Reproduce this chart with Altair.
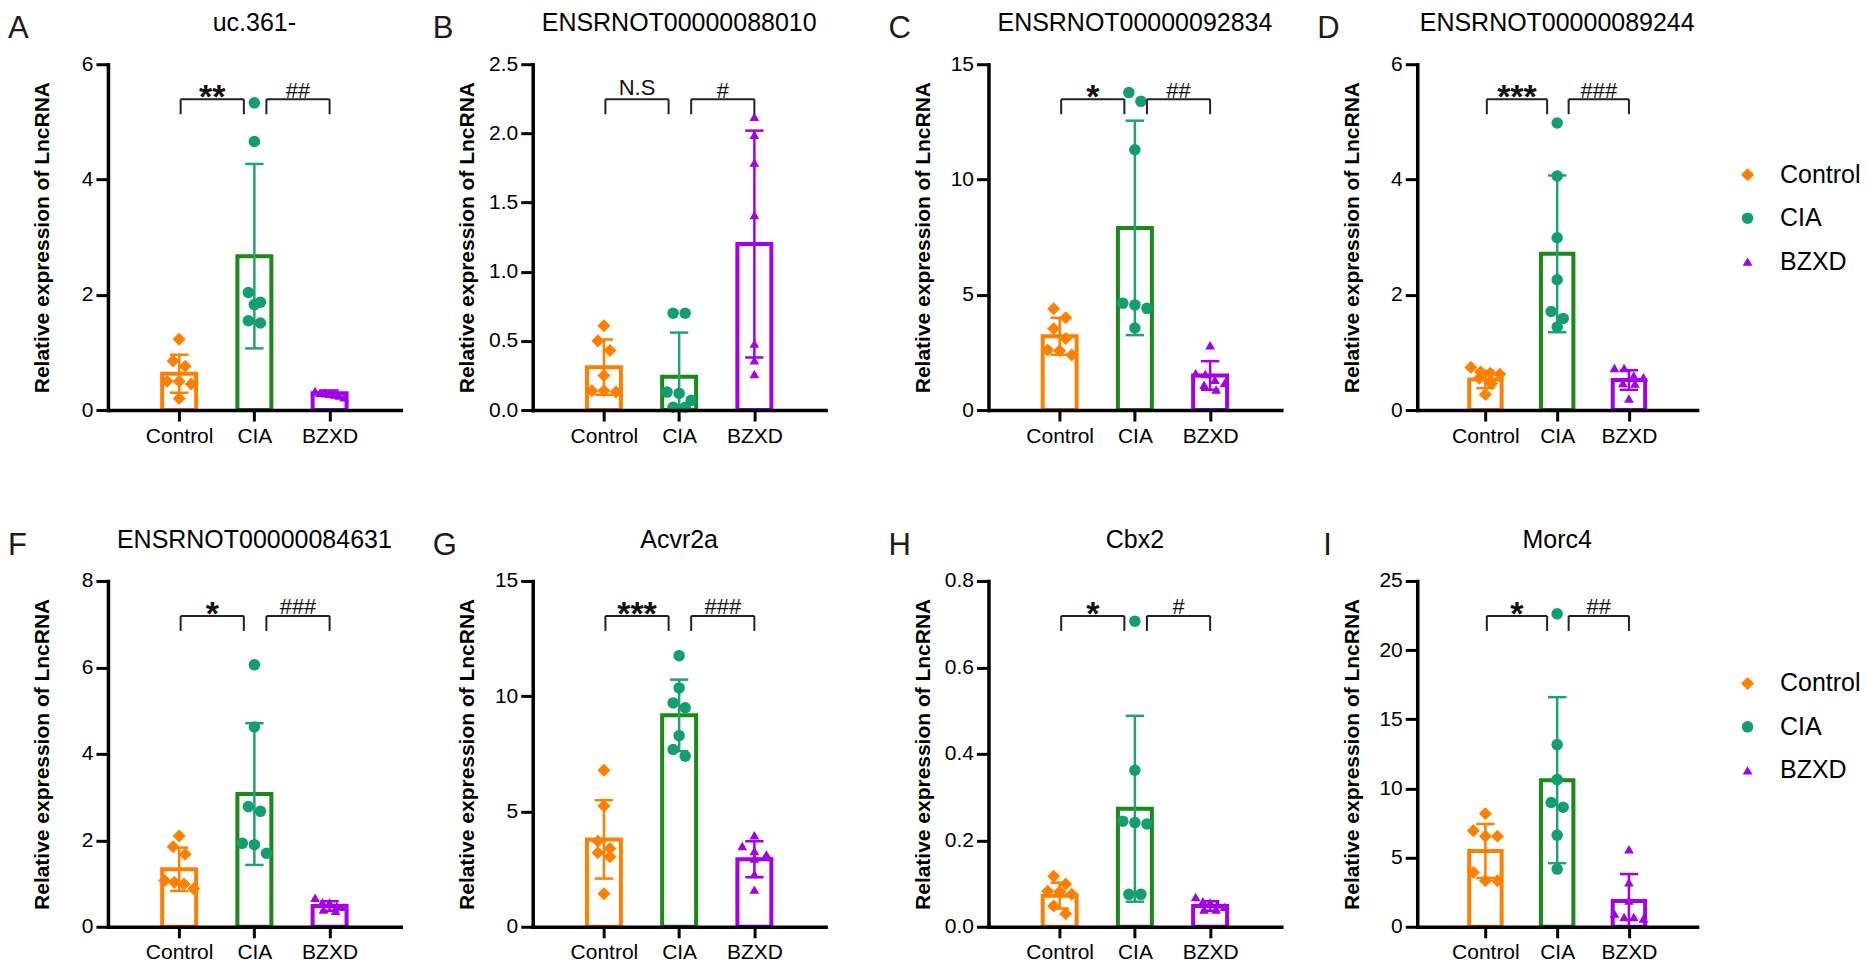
import json
import altair as alt
import pandas as pd

FONT = "Liberation Sans, Arial, Helvetica, sans-serif"

# ---------------- data ----------------
GROUPS = ["Control", "CIA", "BZXD"]
LETTERS = ["A", "B", "C", "D", "F", "G", "H", "I"]
TITLES = ["uc.361-", "ENSRNOT00000088010", "ENSRNOT00000092834", "ENSRNOT00000089244",
          "ENSRNOT00000084631", "Acvr2a", "Cbx2", "Morc4"]
Y_MAX = [6, 2.5, 15, 6, 8, 15, 0.8, 25]
Y_TICKS = [[0, 2, 4, 6], [0, 0.5, 1.0, 1.5, 2.0, 2.5], [0, 5, 10, 15], [0, 2, 4, 6],
           [0, 2, 4, 6, 8], [0, 5, 10, 15], [0, 0.2, 0.4, 0.6, 0.8], [0, 5, 10, 15, 20, 25]]
Y_FORMAT = ["d", ".1f", "d", "d", "d", "d", ".1f", "d"]
SIG_VS_CONTROL = ["**", "N.S", "*", "***", "*", "***", "*", "*"]
SIG_VS_CIA = ["##", "#", "##", "###", "###", "###", "#", "##"]

# bar heights (mean) and error bars (SD): Control, CIA, BZXD
A_MEAN = [0.63, 2.67, 0.29];    A_SD = [0.33, 1.60, 0.05]
B_MEAN = [0.31, 0.24, 1.20];    B_SD = [0.20, 0.32, 0.82]
C_MEAN = [3.20, 7.90, 1.50];    C_SD = [0.80, 4.65, 0.62]
D_MEAN = [0.53, 2.71, 0.52];    D_SD = [0.15, 1.36, 0.17]
F_MEAN = [1.33, 3.07, 0.48];    F_SD = [0.50, 1.64, 0.11]
G_MEAN = [3.79, 9.17, 2.93];    G_SD = [1.70, 1.55, 0.78]
H_MEAN = [0.072, 0.273, 0.048]; H_SD = [0.030, 0.215, 0.011]
I_MEAN = [5.48, 10.60, 1.86];   I_SD = [1.95, 6.00, 1.95]

# individual samples
A_CONTROL = [1.23, 0.85, 0.76, 0.50, 0.50, 0.45, 0.20]
A_CIA = [5.33, 4.66, 2.04, 1.87, 1.83, 1.55, 1.51]
A_BZXD = [0.33, 0.30, 0.30, 0.28, 0.27, 0.25, 0.22]
B_CONTROL = [0.61, 0.50, 0.43, 0.25, 0.14, 0.14, 0.13]
B_CIA = [0.70, 0.70, 0.13, 0.12, 0.07, 0.02, 0.02]
B_BZXD = [2.12, 1.99, 1.79, 1.41, 0.48, 0.36, 0.26]
C_CONTROL = [4.39, 4.00, 3.53, 3.10, 2.60, 2.57, 2.39]
C_CIA = [13.77, 13.39, 11.29, 4.63, 4.56, 4.41, 3.56]
C_BZXD = [2.81, 1.60, 1.56, 1.31, 1.17, 1.10, 0.89]
D_CONTROL = [0.74, 0.66, 0.64, 0.62, 0.55, 0.46, 0.27]
D_CIA = [4.98, 4.06, 2.99, 2.26, 1.71, 1.59, 1.44]
D_BZXD = [0.73, 0.73, 0.60, 0.57, 0.47, 0.46, 0.20]
F_CONTROL = [2.10, 1.85, 1.68, 1.07, 1.03, 0.99, 0.88]
F_CIA = [6.06, 4.62, 2.78, 2.67, 1.93, 1.90, 1.70]
F_BZXD = [0.67, 0.57, 0.56, 0.48, 0.46, 0.40, 0.37]
G_CONTROL = [6.79, 5.24, 3.71, 3.39, 3.21, 3.04, 1.43]
G_CIA = [11.76, 10.36, 9.71, 9.50, 8.29, 7.69, 7.40]
G_BZXD = [3.97, 3.50, 3.29, 3.14, 2.96, 2.29, 1.61]
H_CONTROL = [0.117, 0.099, 0.082, 0.081, 0.075, 0.048, 0.030]
H_CIA = [0.707, 0.362, 0.244, 0.241, 0.238, 0.075, 0.075]
H_BZXD = [0.069, 0.059, 0.056, 0.052, 0.046, 0.040, 0.040]
I_CONTROL = [8.17, 6.95, 6.55, 6.55, 3.93, 3.33, 3.33]
I_CIA = [22.62, 13.17, 10.64, 8.98, 8.64, 6.62, 4.17]
I_BZXD = [5.60, 3.21, 1.90, 0.95, 0.71, 0.71, 0.60]

MEANS = [A_MEAN, B_MEAN, C_MEAN, D_MEAN, F_MEAN, G_MEAN, H_MEAN, I_MEAN]
SDS = [A_SD, B_SD, C_SD, D_SD, F_SD, G_SD, H_SD, I_SD]
POINTS = [
    [A_CONTROL, A_CIA, A_BZXD], [B_CONTROL, B_CIA, B_BZXD],
    [C_CONTROL, C_CIA, C_BZXD], [D_CONTROL, D_CIA, D_BZXD],
    [F_CONTROL, F_CIA, F_BZXD], [G_CONTROL, G_CIA, G_BZXD],
    [H_CONTROL, H_CIA, H_BZXD], [I_CONTROL, I_CIA, I_BZXD],
]

# ---------------- styles / layout ----------------
POINT_COLORS = ["#FF8000", "#129E6E", "#A100E8"]
BAR_COLORS = ["#FF8000", "#1A8A1A", "#A100E8"]
ERR_COLORS = ["#FF8000", "#21A07A", "#A100E8"]
SHAPES = ["diamond", "circle", "triangle-up"]
SYMBOL_SIZES = [170, 95, 200]

COL_WIDTH = [405, 436, 409, 280]
AXIS_LEN = [293, 293, 293, 280]
PLOT_H = 346
COL_SPACING = 20
ROW_SPACING = 171
X_DOMAIN = [0.12, 3.88]
LEGEND_POS = {3: (318, 98), 7: (318, 90)}
LABEL_EXPR = json.dumps(GROUPS) + "[round(datum.value) - 1]"


def swarm(values, ppu_y, ppu_x, row_px=10.0, gap_px=12.5, max_span_px=30.0):
    order = sorted(range(len(values)), key=lambda i: -values[i])
    rows = []
    for i in order:
        if rows and (values[rows[-1][0]] - values[i]) * ppu_y < row_px:
            rows[-1].append(i)
        else:
            rows.append([i])
    offs = [0.0] * len(values)
    for row in rows:
        n = len(row)
        g = gap_px if n < 2 else min(gap_px, max_span_px / (n - 1))
        for j, i in enumerate(row):
            offs[i] = (j - (n - 1) / 2) * g / ppu_x
    return offs


def build_panel(k):
    col = k % 4
    L = AXIS_LEN[col]
    ymax = Y_MAX[k]
    ppu_x = L / (X_DOMAIN[1] - X_DOMAIN[0])
    ppu_y = PLOT_H / ymax
    bar_w = 34 * ppu_x / 78.0
    cap = 9.5 / ppu_x
    pos = [1, 2, 3]
    means, sds = MEANS[k], SDS[k]

    xscale = alt.Scale(domain=X_DOMAIN, range=[0, L], nice=False, zero=False)
    yscale = alt.Scale(domain=[0, ymax], nice=False, zero=True)
    xaxis = alt.Axis(values=pos, labelExpr=LABEL_EXPR, title=None, tickSize=11,
                     labelPadding=4, labelAngle=0, labelOverlap=False, labelFlush=False,
                     zindex=1)
    yaxis = alt.Axis(values=Y_TICKS[k], format=Y_FORMAT[k], title="Relative expression of LncRNA",
                     titleX=-59, titleBaseline="alphabetic", tickSize=12, labelPadding=3,
                     labelOverlap=False, labelFlush=False, zindex=1)

    def X(f):
        return alt.X(f, type="quantitative", scale=xscale, axis=xaxis)

    def Y(f):
        return alt.Y(f, type="quantitative", scale=yscale, axis=yaxis)

    bars = pd.DataFrame({
        "group": GROUPS, "pos": pos, "mean": means, "zero": [0, 0, 0],
        "lo": [max(0.0, m - s) for m, s in zip(means, sds)],
        "hi": [m + s for m, s in zip(means, sds)],
        "barcolor": BAR_COLORS, "errcolor": ERR_COLORS,
    })
    caps = []
    for p, m, s, c in zip(pos, means, sds, ERR_COLORS):
        caps.append({"x": p - cap, "x2": p + cap, "y": m + s, "errcolor": c})
        if m - s >= 0:
            caps.append({"x": p - cap, "x2": p + cap, "y": m - s, "errcolor": c})
    caps = pd.DataFrame(caps)

    pts = []
    for gi, vals in enumerate(POINTS[k]):
        offs = swarm(vals, ppu_y, ppu_x)
        for v, o in zip(vals, offs):
            pts.append({"group": GROUPS[gi], "x": pos[gi] + o, "value": v})
    pts = pd.DataFrame(pts)

    y_top = ymax * (1 - 35.0 / PLOT_H)
    y_leg = ymax * (1 - 50.0 / PLOT_H)
    spans = [(1.02, 1.86), (2.16, 3.0)]
    hlines = pd.DataFrame([{"x": a, "x2": b, "y": y_top} for a, b in spans])
    legs = pd.DataFrame([{"x": v, "y": y_top, "y2": y_leg} for a, b in spans for v in (a, b)])
    labels = [SIG_VS_CONTROL[k], SIG_VS_CIA[k]]
    star_rows, other_rows = [], []
    for (a, b), lab in zip(spans, labels):
        cx = (a + b) / 2
        if "*" in lab:
            star_rows.append({"x": cx, "y": y_top - 9.0 / ppu_y, "t": lab})
        elif "#" in lab:
            other_rows.append({"x": cx, "y": y_top + 1.5 / ppu_y, "t": lab})
        else:
            other_rows.append({"x": cx, "y": y_top + 4.0 / ppu_y, "t": lab})

    leg = None
    if k in LEGEND_POS:
        lx, ly = LEGEND_POS[k]
        leg = alt.Legend(orient="none", legendX=lx, legendY=ly, title=None, labelFont=FONT,
                         labelFontSize=25, labelColor="black", symbolSize=140,
                         symbolStrokeWidth=0, rowPadding=17.5, labelOffset=20, padding=0,
                         symbolOpacity=1)

    layers = []
    layers.append(alt.Chart(bars).mark_bar(size=bar_w, fillOpacity=0, strokeWidth=4,
                                           strokeJoin="miter", orient="vertical").encode(
        x=X("pos"), y=Y("mean"), y2=alt.Y2("zero"),
        stroke=alt.Stroke("barcolor:N", scale=None)))
    layers.append(alt.Chart(bars).mark_rule(strokeWidth=2.5).encode(
        x=X("pos"), y=Y("lo"), y2=alt.Y2("hi"),
        stroke=alt.Stroke("errcolor:N", scale=None)))
    layers.append(alt.Chart(caps).mark_rule(strokeWidth=2.5).encode(
        x=X("x"), x2=alt.X2("x2"), y=Y("y"),
        stroke=alt.Stroke("errcolor:N", scale=None)))
    layers.append(alt.Chart(pts).mark_point(filled=True, opacity=1, strokeWidth=0).encode(
        x=X("x"), y=Y("value"),
        color=alt.Color("group:N", scale=alt.Scale(domain=GROUPS, range=POINT_COLORS), legend=leg),
        shape=alt.Shape("group:N", scale=alt.Scale(domain=GROUPS, range=SHAPES), legend=leg),
        size=alt.Size("group:N", scale=alt.Scale(domain=GROUPS, range=SYMBOL_SIZES), legend=None)))
    layers.append(alt.Chart(hlines).mark_rule(strokeWidth=2, color="#222222").encode(
        x=X("x"), x2=alt.X2("x2"), y=Y("y")))
    layers.append(alt.Chart(legs).mark_rule(strokeWidth=2, color="#222222").encode(
        x=X("x"), y=Y("y"), y2=alt.Y2("y2")))
    if star_rows:
        layers.append(alt.Chart(pd.DataFrame(star_rows)).mark_text(
            font=FONT, fontSize=34, fontWeight="bold", color="#111111", align="center",
            baseline="alphabetic").encode(x=X("x"), y=Y("y"), text="t:N"))
    if other_rows:
        layers.append(alt.Chart(pd.DataFrame(other_rows)).mark_text(
            font=FONT, fontSize=22, color="#111111", align="center",
            baseline="alphabetic").encode(x=X("x"), y=Y("y"), text="t:N"))
    layers.append(alt.Chart(pd.DataFrame({"t": [TITLES[k]]})).mark_text(
        font=FONT, fontSize=25, color="black", align="center", baseline="alphabetic").encode(
        x=alt.value(L / 2), y=alt.value(-33), text="t:N"))
    letter_x = -94 if LETTERS[k] == "I" else -100
    layers.append(alt.Chart(pd.DataFrame({"t": [LETTERS[k]]})).mark_text(
        font=FONT, fontSize=31, color="#231815", align="left", baseline="alphabetic").encode(
        x=alt.value(letter_x), y=alt.value(-26), text="t:N"))

    return alt.layer(*layers).properties(width=COL_WIDTH[col], height=PLOT_H)


panels = [build_panel(k) for k in range(8)]

chart = alt.concat(
    *panels, columns=4,
    spacing=alt.RowColnumber(row=ROW_SPACING, column=COL_SPACING),
    bounds="flush",
).resolve_legend(
    color="independent", shape="independent", size="independent"
).properties(
    padding={"top": 3, "left": 0, "right": 0, "bottom": 0}
).configure_view(stroke=None).configure_axis(
    labelFont=FONT, titleFont=FONT, labelFontSize=21, titleFontSize=21,
    titleFontWeight="bold", labelColor="black", titleColor="black",
    domainColor="black", domainWidth=3.5, domainCap="square",
    tickColor="black", tickWidth=3, grid=False,
)

chart.save("out.html", embed_options={"renderer": "svg", "actions": False})
